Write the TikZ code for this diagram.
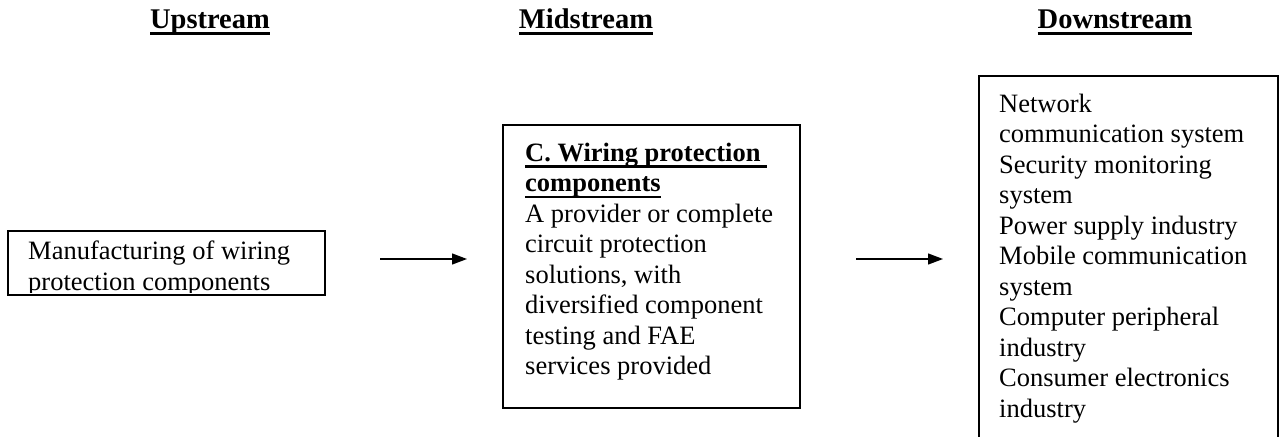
\documentclass[tikz,border=0pt]{standalone}
\usepackage{fontspec}
\setmainfont{Liberation Serif}
\usetikzlibrary{arrows.meta}
\newcommand\hdrul[1]{\leavevmode\setbox0\hbox{#1}\rlap{\rule[-6pt]{\wd0}{3pt}}\box0}
\newcommand\ttlul[1]{\leavevmode\setbox0\hbox{#1}\rlap{\rule[-6.5pt]{\wd0}{2.4pt}}\box0}
\begin{document}
\begin{tikzpicture}[x=1pt,y=-1pt,
  body/.style={inner sep=0, anchor=base west, font=\fontsize{26.5}{30.5}\selectfont},
  hdr/.style={inner sep=0, anchor=base, font=\fontsize{28.5}{32}\selectfont\bfseries},
  boxframe/.style={draw, inner sep=0, fill=none},
  conn/.style={line width=1.3pt, -{Triangle[length=15pt,width=11pt]}}]
\clip (0,0) rectangle (1281,436);
\fill[white] (0,0) rectangle (1281,436);
% headers
\node[hdr] (hup) at (210,29) {\hdrul{Upstream}};
\node[hdr] (hmid) at (586,29) {\hdrul{Midstream}};
\node[hdr] (hdown) at (1115,29) {\hdrul{Downstream}};
% boxes
\node[boxframe, line width=2pt, minimum width=317pt, minimum height=64pt] (up) at (166.5,263) {};
\node[boxframe, line width=2.8pt, minimum width=297pt, minimum height=283pt] (mid) at (651.5,266.5) {};
\node[boxframe, line width=1.3pt, minimum width=299pt, minimum height=384pt] (down) at (1128.5,268) {};
% texts
\begin{scope}
\clip (10,233) rectangle (323,292);
\node[body] (uptext) at (28,259.5) {\parbox[t]{290pt}{\raggedright Manufacturing of wiring\\protection components}};
\end{scope}
\node[body] (midtext) at (525,161) {\parbox[t]{270pt}{\raggedright
\ttlul{\bfseries C. Wiring protection\ }\\
\ttlul{\bfseries components}\\
A provider or complete\\
circuit protection\\
solutions, with\\
diversified component\\
testing and FAE\\
services provided}};
\node[body] (downtext) at (999,112) {\parbox[t]{275pt}{\raggedright
Network\\
communication system\\
Security monitoring\\
system\\
Power supply industry\\
Mobile communication\\
system\\
Computer peripheral\\
industry\\
Consumer electronics\\
industry}};
% arrows
\coordinate (a1s) at (380,259);
\coordinate (a1e) at (467,259);
\coordinate (a2s) at (856,259);
\coordinate (a2e) at (943,259);
\draw[conn] (a1s) -- (a1e);
\draw[conn] (a2s) -- (a2e);
\end{tikzpicture}
\end{document}
